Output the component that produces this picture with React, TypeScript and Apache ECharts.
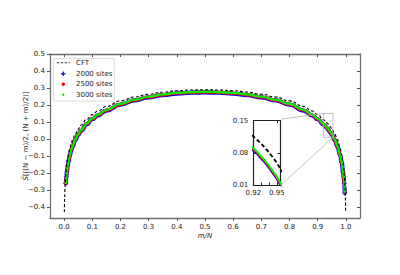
import React, { useEffect, useRef } from 'react';
import * as echarts from 'echarts';

// m/N positions of the finite-size data (shared by the three system sizes)
const dataX = [0.006, 0.008, 0.01, 0.013, 0.016, 0.02, 0.025, 0.03, 0.04, 0.05,
  0.06, 0.08, 0.1, 0.12, 0.15, 0.2, 0.25, 0.3, 0.35, 0.4,
  0.45, 0.5, 0.55, 0.6, 0.65, 0.7, 0.75, 0.8, 0.85, 0.88,
  0.9, 0.92, 0.925, 0.93, 0.935, 0.94, 0.945, 0.95, 0.96, 0.97,
  0.98, 0.985, 0.99, 0.992, 0.994, 0.996];

const sites2000 = [-0.262, -0.223, -0.193, -0.158, -0.130, -0.100, -0.070, -0.045, -0.006, 0.024,
  0.048, 0.086, 0.116, 0.139, 0.167, 0.202, 0.227, 0.245, 0.258, 0.267,
  0.272, 0.274, 0.272, 0.267, 0.258, 0.245, 0.227, 0.202, 0.167, 0.139,
  0.116, 0.086, 0.078, 0.068, 0.059, 0.048, 0.036, 0.024, -0.006, -0.045,
  -0.100, -0.138, -0.193, -0.223, -0.262, -0.317];

const sites2500 = [-0.260, -0.221, -0.191, -0.156, -0.128, -0.098, -0.068, -0.043, -0.004, 0.026,
  0.050, 0.088, 0.118, 0.141, 0.169, 0.204, 0.229, 0.247, 0.260, 0.269,
  0.274, 0.276, 0.274, 0.269, 0.260, 0.247, 0.229, 0.204, 0.169, 0.141,
  0.118, 0.088, 0.080, 0.070, 0.061, 0.050, 0.038, 0.026, -0.004, -0.043,
  -0.098, -0.136, -0.191, -0.221, -0.260, -0.315];

const sites3000 = [-0.258, -0.219, -0.189, -0.154, -0.126, -0.096, -0.066, -0.041, -0.002, 0.028,
  0.052, 0.090, 0.120, 0.143, 0.171, 0.206, 0.231, 0.249, 0.262, 0.271,
  0.276, 0.278, 0.276, 0.271, 0.262, 0.249, 0.231, 0.206, 0.171, 0.143,
  0.120, 0.090, 0.082, 0.072, 0.063, 0.052, 0.040, 0.028, -0.002, -0.041,
  -0.096, -0.134, -0.189, -0.219, -0.258, -0.313];

const cftX = [0.001, 0.002, 0.003, 0.004, 0.005, 0.006, 0.008, 0.01, 0.013, 0.016,
  0.02, 0.025, 0.03, 0.04, 0.05, 0.06, 0.08, 0.1, 0.12, 0.15,
  0.2, 0.25, 0.3, 0.35, 0.4, 0.45, 0.5, 0.55, 0.6, 0.65,
  0.7, 0.75, 0.8, 0.85, 0.88, 0.9, 0.92, 0.925, 0.93, 0.935,
  0.94, 0.945, 0.95, 0.96, 0.97, 0.98, 0.985, 0.99, 0.992, 0.994,
  0.995, 0.996, 0.997, 0.998, 0.999];
const cftY = [-0.430, -0.344, -0.293, -0.257, -0.229, -0.206, -0.171, -0.143, -0.110, -0.084,
  -0.056, -0.028, -0.005, 0.030, 0.058, 0.081, 0.116, 0.143, 0.165, 0.191,
  0.224, 0.247, 0.263, 0.276, 0.284, 0.288, 0.290, 0.288, 0.284, 0.276,
  0.263, 0.247, 0.224, 0.191, 0.165, 0.143, 0.116, 0.108, 0.100, 0.091,
  0.081, 0.070, 0.058, 0.030, -0.005, -0.056, -0.092, -0.143, -0.171, -0.206,
  -0.229, -0.257, -0.293, -0.344, -0.430];

const xTicks = [0, 0.1, 0.2, 0.3, 0.4, 0.5, 0.6, 0.7, 0.8, 0.9, 1.0];
const yTicks = [-0.4, -0.3, -0.2, -0.1, 0, 0.1, 0.2, 0.3, 0.4, 0.5];
const insetXTicks = [0.92, 0.93, 0.94, 0.95];
const insetXLabels = [0.92, 0.95];
const insetYTicks = [0.01, 0.08, 0.15];
const insetXRange = [0.92, 0.954];
const insetYRange = [0.01, 0.15];

const legendNames = ['CFT', '2000 sites', '2500 sites', '3000 sites'];
const BLUE = '#0000ff';
const RED = '#ff0000';
const GREEN = '#00ee00';
const FONT = 'DejaVu Sans';
const PLUS = 'path://M4,0H6V4H10V6H6V10H4V6H0V4H4Z';

const pairs = (xs: number[], ys: number[]) => xs.map((x, i) => [x, ys[i]]);
// separate markers only where the curve is steep (ends of the range)
const endPoints = (xs: number[], ys: number[]) => pairs(xs, ys).filter((d) => d[1] < -0.12);
const minus = (s: string) => s.replace('-', '\u2212');

const axisLineMain = { show: true, onZero: false, lineStyle: { color: '#707070', width: 1.3 } };
const axisLineInset = { show: true, onZero: false, lineStyle: { color: '#222', width: 1.2 } };

function dataSeries(xi: number, yi: number, main: boolean) {
  const w = main ? [4.2, 3.2, 2.3] : [2.4, 2.1, 1.9];
  const sets = [
    { name: legendNames[1], ys: sites2000, color: BLUE, symbol: PLUS, size: 5, w: w[0], z: 2 },
    { name: legendNames[2], ys: sites2500, color: RED, symbol: 'circle', size: 3.5, w: w[1], z: 3 },
    { name: legendNames[3], ys: sites3000, color: GREEN, symbol: 'circle', size: 2.6, w: w[2], z: 4 },
  ];
  const out: any[] = [];
  sets.forEach((s) => {
    out.push({
      name: s.name, type: 'line', xAxisIndex: xi, yAxisIndex: yi,
      data: pairs(dataX, s.ys), smooth: main ? 0.5 : false, smoothMonotone: 'x', symbol: 'none',
      lineStyle: { color: s.color, width: s.w, cap: 'round', join: 'round' }, z: s.z,
    });
    if (main) {
      out.push({
        name: s.name, type: 'scatter', xAxisIndex: xi, yAxisIndex: yi,
        data: endPoints(dataX, s.ys), symbol: s.symbol, symbolSize: s.size,
        itemStyle: { color: s.color }, z: s.z,
      });
    }
  });
  out.push({
    name: legendNames[0], type: 'line', xAxisIndex: xi, yAxisIndex: yi,
    data: pairs(cftX, cftY), smooth: main ? 0.5 : false, smoothMonotone: 'x', symbol: 'none',
    lineStyle: { color: '#000', width: main ? 1.1 : 1.8, type: main ? [3, 2] : [4, 2.5] }, z: 5,
  });
  return out;
}

export default function App() {
  const ref = useRef<HTMLDivElement>(null);
  useEffect(() => {
    const chart = echarts.init(ref.current!, null, { renderer: 'svg' });
    const labelStyle = { fontSize: 7, color: '#222', fontFamily: FONT };
    const option: any = {
      animation: false,
      backgroundColor: '#fff',
      grid: [
        { left: 50, top: 54, right: 40, bottom: 57 },
        { left: 253.3, top: 120.7, width: 26.7, height: 64.3 },
      ],
      xAxis: [
        {
          gridIndex: 0, type: 'value', position: 'bottom', min: -0.05, max: 1.05,
          name: 'm/N', nameLocation: 'middle', nameGap: 14, nameMoveOverlap: false,
          nameTextStyle: { fontSize: 7, fontStyle: 'italic', fontFamily: FONT, color: '#222' },
          axisLine: axisLineMain,
          axisTick: { show: true, inside: false, length: 3, customValues: xTicks, lineStyle: { color: '#555' } },
          axisLabel: { ...labelStyle, margin: 5, customValues: xTicks, formatter: (v: number) => minus(v.toFixed(1)) },
          splitLine: { show: false },
        },
        {
          gridIndex: 0, type: 'value', position: 'top', min: -0.05, max: 1.05,
          axisLine: axisLineMain,
          axisTick: { show: true, inside: true, length: 3, customValues: xTicks, lineStyle: { color: '#555' } },
          axisLabel: { show: false },
          splitLine: { show: false },
        },
        {
          gridIndex: 1, type: 'value', position: 'bottom', min: insetXRange[0], max: insetXRange[1],
          axisLine: axisLineInset,
          axisTick: { show: true, inside: true, length: 2.5, customValues: insetXTicks, lineStyle: { color: '#222' } },
          axisLabel: { ...labelStyle, margin: 4, customValues: insetXLabels, formatter: (v: number) => v.toFixed(2) },
          splitLine: { show: false },
        },
        {
          gridIndex: 1, type: 'value', position: 'top', min: insetXRange[0], max: insetXRange[1],
          axisLine: axisLineInset,
          axisTick: { show: true, inside: true, length: 2.5, customValues: insetXLabels, lineStyle: { color: '#222' } },
          axisLabel: { show: false },
          splitLine: { show: false },
        },
      ],
      yAxis: [
        {
          gridIndex: 0, type: 'value', position: 'left', min: -0.465, max: 0.5,
          name: '{i|S\u0303}[((N \u2212 m)/2, (N + m)/2)]',
          nameLocation: 'middle', nameGap: 21, nameRotate: 90, nameMoveOverlap: false,
          nameTextStyle: {
            fontSize: 7, fontFamily: FONT, color: '#222',
            rich: { i: { fontSize: 7, fontStyle: 'italic', fontFamily: FONT, color: '#222' } },
          },
          axisLine: axisLineMain,
          axisTick: { show: true, inside: false, length: 3, customValues: yTicks, lineStyle: { color: '#555' } },
          axisLabel: { ...labelStyle, margin: 5, customValues: yTicks, formatter: (v: number) => minus(v.toFixed(1)) },
          splitLine: { show: false },
        },
        {
          gridIndex: 0, type: 'value', position: 'right', min: -0.465, max: 0.5,
          axisLine: axisLineMain,
          axisTick: { show: true, inside: true, length: 3, customValues: yTicks, lineStyle: { color: '#555' } },
          axisLabel: { show: false },
          splitLine: { show: false },
        },
        {
          gridIndex: 1, type: 'value', position: 'left', min: insetYRange[0], max: insetYRange[1],
          axisLine: axisLineInset,
          axisTick: { show: true, inside: true, length: 2.5, customValues: insetYTicks, lineStyle: { color: '#222' } },
          axisLabel: { ...labelStyle, margin: 5, customValues: insetYTicks, formatter: (v: number) => v.toFixed(2) },
          splitLine: { show: false },
        },
        {
          gridIndex: 1, type: 'value', position: 'right', min: insetYRange[0], max: insetYRange[1],
          axisLine: axisLineInset,
          axisTick: { show: true, inside: true, length: 2.5, customValues: insetYTicks, lineStyle: { color: '#222' } },
          axisLabel: { show: false },
          splitLine: { show: false },
        },
      ],
      series: [...dataSeries(0, 0, true), ...dataSeries(2, 2, false)],
    };
    chart.setOption(option);

    const p = (x: number, y: number) => chart.convertToPixel({ gridIndex: 0 }, [x, y]) as number[];
    const ip = (x: number, y: number) => chart.convertToPixel({ gridIndex: 1 }, [x, y]) as number[];
    const rTL = p(insetXRange[0], insetYRange[1]);
    const rBR = p(insetXRange[1], insetYRange[0]);
    const iTR = ip(insetXRange[1], insetYRange[1]);
    const iBR = ip(insetXRange[1], insetYRange[0]);
    const grey = { stroke: '#b0b0b0', lineWidth: 0.8 };

    const lx = 53.3, ly = 58.3, lw = 61, lh = 42.7;
    const rows = [62.8, 73.8, 84.3, 94.8];
    const mx = 63.3, tx = 76;

    chart.setOption({
      graphic: [
        { type: 'rect', shape: { x: rTL[0], y: rTL[1], width: rBR[0] - rTL[0], height: rBR[1] - rTL[1] }, style: { ...grey, fill: 'none' }, z: 10 },
        { type: 'line', shape: { x1: iTR[0] + 1, y1: iTR[1] - 1.5, x2: rTL[0], y2: rTL[1] }, style: grey, z: 10 },
        { type: 'line', shape: { x1: iBR[0] + 1, y1: iBR[1], x2: rBR[0], y2: rBR[1] }, style: grey, z: 10 },
        { type: 'rect', shape: { x: lx, y: ly, width: lw, height: lh, r: 2 }, style: { fill: 'rgba(255,255,255,0.85)', stroke: '#cfcfcf', lineWidth: 0.8 }, z: 20 },
        { type: 'line', shape: { x1: 56.7, y1: rows[0], x2: 70, y2: rows[0] }, style: { stroke: '#333', lineWidth: 1.1, lineDash: [2.5, 1.5] }, z: 21 },
        { type: 'rect', shape: { x: mx - 2.3, y: rows[1] - 0.6, width: 4.6, height: 1.2 }, style: { fill: BLUE }, z: 21 },
        { type: 'rect', shape: { x: mx - 0.6, y: rows[1] - 2.3, width: 1.2, height: 4.6 }, style: { fill: BLUE }, z: 21 },
        { type: 'circle', shape: { cx: mx, cy: rows[2], r: 1.7 }, style: { fill: RED }, z: 21 },
        { type: 'circle', shape: { cx: mx, cy: rows[3], r: 1.2 }, style: { fill: GREEN }, z: 21 },
        ...legendNames.map((n, i) => ({
          type: 'text', x: tx, y: rows[i], z: 21,
          style: { text: n, fontSize: 7, fontFamily: FONT, fill: '#222', verticalAlign: 'middle', align: 'left' },
        })),
      ],
    });
    return () => chart.dispose();
  }, []);
  return <div ref={ref} style={{ position: 'absolute', left: 0, top: 0, width: 400, height: 275 }} />;
}
